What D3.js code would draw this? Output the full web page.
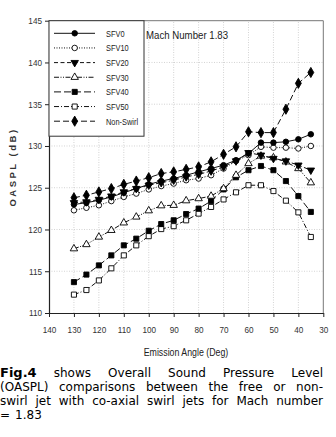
<!DOCTYPE html>
<html>
<head>
<meta charset="utf-8">
<script src="https://cdn.jsdelivr.net/npm/d3@7"></script>
<style>
  body { margin: 0; background: #fff; }
  svg { display: block; }
</style>
</head>
<body>
<div id="chart"></div>
<script>

var angles = [130, 125, 120, 115, 110, 105, 100, 95, 90, 85, 80, 75, 70, 65, 60, 55, 50, 45, 40, 35];

var sfv0 = [123.0, 123.2, 123.5, 123.9, 124.4, 124.9, 125.4, 125.8, 126.1, 126.5, 126.9, 127.3, 127.7, 128.3, 129.1, 130.4, 130.4, 130.5, 130.8, 131.4];
var sfv10 = [122.3, 122.6, 122.9, 123.4, 123.9, 124.3, 124.8, 125.2, 125.5, 125.9, 126.1, 126.5, 127.3, 128.2, 128.9, 129.9, 129.8, 129.8, 129.7, 130.0];
var sfv20 = [123.2, 123.3, 123.6, 124.0, 124.5, 124.9, 125.3, 125.6, 125.9, 126.3, 126.6, 127.0, 127.5, 128.2, 129.2, 128.9, 128.5, 128.2, 127.7, 127.1];
var sfv30 = [117.7, 118.2, 119.1, 119.9, 120.8, 121.5, 122.25, 122.85, 122.9, 123.45, 123.7, 124.0, 124.9, 126.5, 127.9, 128.8, 128.6, 128.1, 127.3, 125.6];
var sfv40 = [113.7, 114.6, 115.7, 116.9, 118.1, 118.9, 119.85, 120.65, 121.1, 121.85, 122.5, 123.4, 124.8, 126.25, 127.1, 127.6, 127.1, 125.8, 124.0, 122.1];
var sfv50 = [112.2, 112.75, 113.9, 115.35, 116.9, 118.1, 119.2, 120.05, 120.4, 121.1, 121.9, 122.7, 123.6, 124.45, 125.3, 125.3, 124.6, 123.45, 122.05, 119.1];
var nonSwirl = [123.8, 124.1, 124.5, 124.9, 125.4, 125.8, 126.2, 126.7, 126.9, 127.2, 127.5, 128.1, 129.0, 129.9, 131.7, 131.6, 131.6, 134.4, 137.5, 138.8];

var seriesNames = ["SFV0", "SFV10", "SFV20", "SFV30", "SFV40", "SFV50", "Non-Swirl"];
var yTicks = [110, 115, 120, 125, 130, 135, 140, 145];
var xTicks = [140, 130, 120, 110, 100, 90, 80, 70, 60, 50, 40, 30];

var width = 336, height = 437;

var svg = d3.select("#chart").append("svg")
    .attr("width", width)
    .attr("height", height);

var x = d3.scaleLinear().domain([140, 30]).range([49, 323.3]);
var y = d3.scaleLinear().domain([110, 145]).range([313, 20.7]);

var sans = "'Liberation Sans', Arial, sans-serif";
var tickSqueeze = 0.88;

// grid
svg.append("g").selectAll("line.gy")
    .data(yTicks.slice(1, -1))
    .enter().append("line")
    .attr("x1", x(140)).attr("x2", x(30))
    .attr("y1", function(d) { return y(d); }).attr("y2", function(d) { return y(d); })
    .attr("stroke", "#c8c8c8").attr("stroke-width", 0.8).attr("stroke-dasharray", "1,1.5");

svg.append("g").selectAll("line.gx")
    .data(xTicks.slice(1, -1))
    .enter().append("line")
    .attr("y1", y(110)).attr("y2", y(145))
    .attr("x1", function(d) { return x(d); }).attr("x2", function(d) { return x(d); })
    .attr("stroke", "#c8c8c8").attr("stroke-width", 0.8).attr("stroke-dasharray", "1,1.5");

// frame top/right
svg.append("path")
    .attr("d", "M" + x(140) + "," + y(145) + "H" + x(30) + "V" + y(110))
    .attr("fill", "none").attr("stroke", "#777").attr("stroke-width", 1);

// axes
var yAxis = svg.append("g")
    .attr("transform", "translate(" + x(140) + ",0)")
    .call(d3.axisLeft(y).tickValues(yTicks).tickSize(4).tickSizeOuter(0).tickPadding(3));
var xAxis = svg.append("g")
    .attr("transform", "translate(0," + y(110) + ")")
    .call(d3.axisBottom(x).tickValues(xTicks).tickSize(4).tickSizeOuter(0).tickPadding(9));

[yAxis, xAxis].forEach(function(a) {
  a.select(".domain").attr("stroke", "#222").attr("stroke-width", 1.2);
  a.selectAll(".tick line").attr("stroke", "#222");
  a.selectAll(".tick text").attr("font-family", sans).attr("font-size", 9.3).attr("fill", "#333")
      .attr("transform", "scale(" + tickSqueeze + ",1)");
});
yAxis.selectAll(".tick text").attr("x", -7 / tickSqueeze);

// axis titles
svg.append("text")
    .attr("transform", "translate(16,167) rotate(-90)")
    .attr("text-anchor", "middle")
    .attr("font-family", sans)
    .attr("font-size", 9.5)
    .attr("font-weight", "bold")
    .attr("letter-spacing", 2.5)
    .attr("fill", "#333")
    .text("OASPL (dB)");

svg.append("text")
    .attr("transform", "translate(186,356) scale(0.83,1)")
    .attr("text-anchor", "middle")
    .attr("font-family", sans)
    .attr("font-size", 10.6)
    .attr("fill", "#222")
    .text("Emission Angle (Deg)");

svg.append("text")
    .attr("transform", "translate(146,39) scale(0.84,1)")
    .attr("font-family", sans)
    .attr("font-size", 11.5)
    .attr("fill", "#222")
    .text("Mach Number 1.83");

// series
var styles = [
  {dash: null, shape: "circle", fill: "#000"},
  {dash: "1,1.5", shape: "circle", fill: "#fff"},
  {dash: "4,2.5", shape: "tri-down", fill: "#000"},
  {dash: "5,1.5,1,1.5,1,1.5", shape: "tri-up", fill: "#fff"},
  {dash: "7,3", shape: "square", fill: "#000"},
  {dash: "5,2,1,2", shape: "square", fill: "#fff"},
  {dash: "6,3", shape: "diamond", fill: "#000"}
];
var values = [sfv0, sfv10, sfv20, sfv30, sfv40, sfv50, nonSwirl];

var symbolFor = {
  "circle": d3.symbol().type(d3.symbolCircle).size(24),
  "square": d3.symbol().type(d3.symbolSquare).size(26),
  "diamond": d3.symbol().type(d3.symbolDiamond).size(30),
  "tri-up": d3.symbol().type(d3.symbolTriangle).size(24),
  "tri-down": d3.symbol().type(d3.symbolTriangle).size(24)
};

var line = d3.line()
    .x(function(d) { return x(d.a); })
    .y(function(d) { return y(d.v); });

var series = seriesNames.map(function(name, i) {
  return {
    name: name,
    style: styles[i],
    points: angles.map(function(a, j) { return {a: a, v: values[i][j]}; })
  };
});

var order = [5, 4, 3, 1, 2, 0, 6];
order.forEach(function(i) {
  var s = series[i];
  var g = svg.append("g");
  g.append("path")
      .attr("d", line(s.points))
      .attr("fill", "none")
      .attr("stroke", "#111")
      .attr("stroke-width", 1)
      .attr("stroke-dasharray", s.style.dash);
  g.selectAll("path.m")
      .data(s.points)
      .enter().append("path")
      .attr("class", "m")
      .attr("d", symbolFor[s.style.shape])
      .attr("transform", function(d) {
        return "translate(" + x(d.a) + "," + y(d.v) + ")" + (s.style.shape == "tri-down" ? " rotate(180)" : "");
      })
      .attr("fill", s.style.fill)
      .attr("stroke", "#000")
      .attr("stroke-width", 0.9);
});

// legend
var legend = svg.append("g");
legend.append("rect")
    .attr("x", x(140)).attr("y", y(145))
    .attr("width", 95).attr("height", 115.5)
    .attr("fill", "#fff").attr("stroke", "#333").attr("stroke-width", 1);

var item = legend.selectAll("g.item")
    .data(series)
    .enter().append("g")
    .attr("transform", function(d, i) { return "translate(0," + (33.3 + i * 14.65) + ")"; });

item.append("line")
    .attr("x1", 54).attr("x2", 95)
    .attr("stroke", "#111").attr("stroke-width", 1)
    .attr("stroke-dasharray", function(d) { return d.style.dash; });
item.append("path")
    .attr("d", function(d) { return symbolFor[d.style.shape](); })
    .attr("transform", function(d) { return "translate(74.7,0)" + (d.style.shape == "tri-down" ? " rotate(180)" : ""); })
    .attr("fill", function(d) { return d.style.fill; })
    .attr("stroke", "#000").attr("stroke-width", 0.9);
item.append("text")
    .attr("transform", "translate(106,3.5) scale(0.78,1)")
    .attr("font-family", sans)
    .attr("font-size", 9.5)
    .attr("fill", "#222")
    .text(function(d) { return d.name; });

// caption, justified
var captionLines = [
  [["Fig.4", true], ["shows", false], ["Overall", false], ["Sound", false], ["Pressure", false], ["Level", false]],
  [["(OASPL)", false], ["comparisons", false], ["between", false], ["the", false], ["free", false], ["or", false], ["non-", false]],
  [["swirl", false], ["jet", false], ["with", false], ["co-axial", false], ["swirl", false], ["jets", false], ["for", false], ["Mach", false], ["number", false]],
  [["=", false], ["1.83", false]]
];
var capFont = "Verdana, 'DejaVu Sans', sans-serif";
var capLeft = 0, capRight = 323;
captionLines.forEach(function(words, li) {
  var yy = 377 + li * 14;
  var nodes = words.map(function(w) {
    return svg.append("text")
        .attr("y", yy)
        .attr("font-family", capFont)
        .attr("font-size", w[1] ? 13 : 12)
        .attr("font-weight", w[1] ? "bold" : "normal")
        .attr("fill", "#000")
        .text(w[0]);
  });
  var widths = nodes.map(function(n) { return n.node().getComputedTextLength(); });
  var total = d3.sum(widths);
  var last = li == captionLines.length - 1;
  var gap = last ? 5 : (capRight - capLeft - total) / (words.length - 1);
  var cx = capLeft;
  nodes.forEach(function(n, k) {
    n.attr("x", cx);
    cx += widths[k] + gap;
  });
});

</script>
</body>
</html>
